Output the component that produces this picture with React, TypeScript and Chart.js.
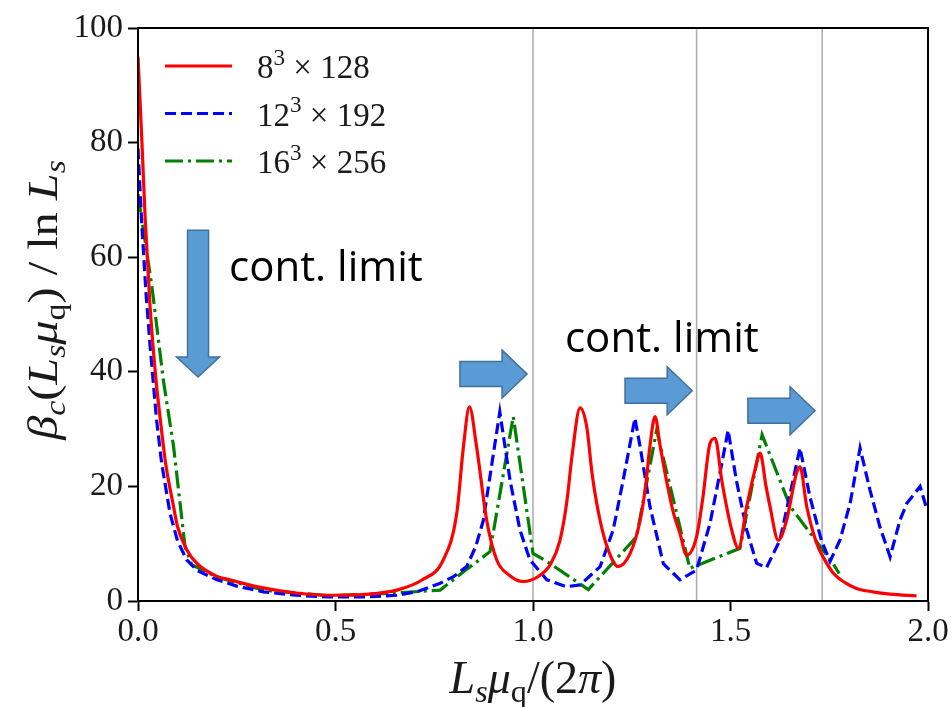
import React, { useEffect, useRef } from "react";
import { Chart, registerables } from "chart.js";
Chart.register(...registerables);

// ---- data ----
const redX = [0, 0.01, 0.018, 0.03, 0.045, 0.056, 0.07, 0.09, 0.1, 0.123, 0.15, 0.2, 0.233, 0.3, 0.4, 0.5, 0.6, 0.655, 0.72, 0.773, 0.807, 0.824, 0.839, 0.857, 0.883, 0.908, 0.94, 0.975, 1.018, 1.045, 1.068, 1.085, 1.1, 1.119, 1.136, 1.15, 1.17, 1.19, 1.215, 1.246, 1.271, 1.285, 1.296, 1.309, 1.322, 1.338, 1.355, 1.372, 1.389, 1.414, 1.43, 1.448, 1.461, 1.478, 1.503, 1.52, 1.541, 1.562, 1.575, 1.59, 1.6, 1.621, 1.642, 1.667, 1.676, 1.693, 1.718, 1.74, 1.76, 1.79, 1.819, 1.86, 1.904, 1.971];
const redY = [95, 80, 67, 52, 39, 32, 24, 16.5, 13, 9, 6.5, 4.3, 3.7, 2.5, 1.4, 1.0, 1.3, 1.9, 3.7, 7.2, 15.3, 27, 33.9, 27, 14, 7.2, 4.5, 3.4, 4.5, 6.5, 10.5, 17, 26, 33.7, 30.4, 22, 14, 9, 6, 8.3, 14, 20, 27, 32.2, 27, 21, 15.5, 11.8, 8, 11.2, 18, 27.5, 28.4, 21, 12.4, 9.2, 16.5, 22.9, 25.8, 20, 16.5, 10.6, 14.1, 22.3, 23.4, 16.5, 10.1, 7, 4.9, 3.2, 2.2, 1.6, 1.2, 0.9];

const blueX = [0, 0.009, 0.02, 0.03, 0.047, 0.06, 0.081, 0.1, 0.123, 0.15, 0.2, 0.25, 0.317, 0.4, 0.486, 0.57, 0.655, 0.71, 0.765, 0.8, 0.832, 0.855, 0.874, 0.9, 0.916, 0.942, 0.967, 0.992, 1.035, 1.084, 1.119, 1.17, 1.203, 1.228, 1.258, 1.271, 1.296, 1.33, 1.372, 1.414, 1.448, 1.478, 1.494, 1.515, 1.541, 1.566, 1.591, 1.625, 1.655, 1.676, 1.701, 1.73, 1.752, 1.777, 1.803, 1.828, 1.853, 1.878, 1.904, 1.929, 1.946, 1.98, 1.995];
const blueY = [79, 66.5, 54, 45, 31.6, 24, 15.3, 10.5, 7.2, 5.3, 3.7, 2.6, 1.6, 1.0, 0.7, 0.7, 1.0, 1.7, 3.1, 4.3, 6, 9.5, 14, 25.8, 33, 21, 12.4, 7.2, 3.7, 2.5, 2.8, 6, 12.4, 21, 31.9, 27, 16.5, 6.5, 3.7, 5.4, 13.5, 24, 29.8, 21, 12.4, 6.6, 5.8, 10.6, 20, 26.7, 18.2, 10.6, 6.9, 10.6, 17.1, 26.7, 19.4, 13, 7.7, 14.1, 17, 20, 16.5];

const greenX = [0, 0.035, 0.064, 0.09, 0.119, 0.136, 0.2, 0.317, 0.486, 0.655, 0.765, 0.824, 0.891, 0.95, 1.0, 1.035, 1.14, 1.2, 1.262, 1.313, 1.355, 1.397, 1.524, 1.58, 1.651, 1.76, 1.775];
const greenY = [71, 55, 38.6, 27, 9.5, 6.3, 4.2, 1.9, 0.9, 1.4, 1.9, 5.1, 8.6, 32.2, 8.3, 6.9, 2.0, 6.5, 11.2, 29.8, 17.8, 5.7, 9.2, 29, 16.5, 6.5, 4.8];

const xTicks = [0, 0.5, 1.0, 1.5, 2.0];
const yTicks = [0, 20, 40, 60, 80, 100];
const vLines = [1, Math.SQRT2, Math.sqrt(3)];

// annotations (data coordinates)
const rightArrows = [
  [0.815, 0.985, 39.6],
  [1.233, 1.403, 36.7],
  [1.544, 1.714, 33.2],
];
const downArrow = [0.152, 64.7, 39.1];
const notes = [
  { text: "cont. limit", x: 0.2304, y: 55.8 },
  { text: "cont. limit", x: 1.081, y: 43.5 },
];

const FONT = '"Liberation Serif", "DejaVu Serif", serif';
const SANS = '"Open Sans", "Noto Sans", sans-serif';

type Seg = { t: string; it?: boolean; sub?: boolean; sup?: boolean };

function segFont(s: Seg, size: number) {
  const sz = s.sub || s.sup ? size * 0.7 : size;
  return `${s.it ? "italic " : ""}${sz}px ${FONT}`;
}
function measureRich(ctx: CanvasRenderingContext2D, segs: Seg[], size: number) {
  let w = 0;
  for (const s of segs) {
    ctx.font = segFont(s, size);
    w += ctx.measureText(s.t).width;
  }
  return w;
}
function drawRich(ctx: CanvasRenderingContext2D, segs: Seg[], x: number, y: number, size: number) {
  let cx = x;
  ctx.textBaseline = "alphabetic";
  ctx.textAlign = "left";
  for (const s of segs) {
    ctx.font = segFont(s, size);
    const dy = s.sub ? size * 0.2 : s.sup ? -size * 0.4 : 0;
    ctx.fillText(s.t, cx, y + dy);
    cx += ctx.measureText(s.t).width;
  }
}

const xLabel: Seg[] = [
  { t: "L", it: true },
  { t: "s", it: true, sub: true },
  { t: "μ", it: true },
  { t: "q", sub: true },
  { t: "/(2" },
  { t: "π", it: true },
  { t: ")" },
];
const yLabel: Seg[] = [
  { t: "β", it: true },
  { t: "c", it: true, sub: true },
  { t: "(" },
  { t: "L", it: true },
  { t: "s", it: true, sub: true },
  { t: "μ", it: true },
  { t: "q", sub: true },
  { t: ")" },
  { t: " / ln " },
  { t: "L", it: true },
  { t: "s", it: true, sub: true },
];
const legendItems = [
  { segs: [{ t: "8" }, { t: "3", sup: true }, { t: " × 128" }] as Seg[], color: "#ff0000", dash: [] as number[] },
  { segs: [{ t: "12" }, { t: "3", sup: true }, { t: " × 192" }] as Seg[], color: "#0000ff", dash: [11, 5] },
  { segs: [{ t: "16" }, { t: "3", sup: true }, { t: " × 256" }] as Seg[], color: "#008000", dash: [18, 5, 3, 5] },
];

function rightArrowPath(ctx: CanvasRenderingContext2D, x0: number, x1: number, yc: number) {
  const sh = 12.5, hh = 24, hl = 25;
  ctx.beginPath();
  ctx.moveTo(x0, yc - sh);
  ctx.lineTo(x1 - hl, yc - sh);
  ctx.lineTo(x1 - hl, yc - hh);
  ctx.lineTo(x1, yc);
  ctx.lineTo(x1 - hl, yc + hh);
  ctx.lineTo(x1 - hl, yc + sh);
  ctx.lineTo(x0, yc + sh);
  ctx.closePath();
}
function downArrowPath(ctx: CanvasRenderingContext2D, xc: number, y0: number, y1: number) {
  const sw = 10.5, hw = 21.5, hl = 20;
  ctx.beginPath();
  ctx.moveTo(xc - sw, y0);
  ctx.lineTo(xc + sw, y0);
  ctx.lineTo(xc + sw, y1 - hl);
  ctx.lineTo(xc + hw, y1 - hl);
  ctx.lineTo(xc, y1);
  ctx.lineTo(xc - hw, y1 - hl);
  ctx.lineTo(xc - sw, y1 - hl);
  ctx.closePath();
}

const decor = {
  id: "decor",
  beforeDatasetsDraw(chart: any) {
    const { ctx, chartArea: a, scales } = chart;
    ctx.save();
    ctx.strokeStyle = "#b0b0b0";
    ctx.lineWidth = 1.6;
    for (const v of vLines) {
      const px = scales.x.getPixelForValue(v);
      ctx.beginPath();
      ctx.moveTo(px, a.top);
      ctx.lineTo(px, a.bottom);
      ctx.stroke();
    }
    ctx.restore();
  },
  afterDraw(chart: any) {
    const { ctx, chartArea: a, scales } = chart;
    const xs = scales.x, ys = scales.y;
    ctx.save();
    // frame
    ctx.strokeStyle = "#000";
    ctx.lineWidth = 2;
    ctx.strokeRect(a.left, a.top, a.right - a.left, a.bottom - a.top);

    // arrows
    ctx.fillStyle = "#5b9bd5";
    ctx.strokeStyle = "#41719c";
    ctx.lineWidth = 1.5;
    for (const [x0, x1, y] of rightArrows) {
      rightArrowPath(ctx, xs.getPixelForValue(x0), xs.getPixelForValue(x1), ys.getPixelForValue(y));
      ctx.fill();
      ctx.stroke();
    }
    downArrowPath(ctx, xs.getPixelForValue(downArrow[0]), ys.getPixelForValue(downArrow[1]), ys.getPixelForValue(downArrow[2]));
    ctx.fill();
    ctx.stroke();

    // notes
    ctx.fillStyle = "#000";
    ctx.font = `42px ${SANS}`;
    ctx.textAlign = "left";
    ctx.textBaseline = "alphabetic";
    for (const n of notes) {
      ctx.fillText(n.text, xs.getPixelForValue(n.x), ys.getPixelForValue(n.y));
    }

    // legend
    const lsize = 33;
    legendItems.forEach((it, i) => {
      const ly = a.top + 38 + i * 47.5;
      ctx.strokeStyle = it.color;
      ctx.lineWidth = 3.2;
      ctx.setLineDash(it.dash);
      ctx.beginPath();
      ctx.moveTo(a.left + 27, ly);
      ctx.lineTo(a.left + 94, ly);
      ctx.stroke();
      ctx.setLineDash([]);
      ctx.fillStyle = "#1a1a1a";
      drawRich(ctx, it.segs, a.left + 119, ly + 12, lsize);
    });

    // x axis title
    ctx.fillStyle = "#1a1a1a";
    const xsz = 46;
    const xw = measureRich(ctx, xLabel, xsz);
    drawRich(ctx, xLabel, (a.left + a.right) / 2 - xw / 2, 693, xsz);

    // y axis title
    const ysz = 42;
    const target = 315;
    const yw = measureRich(ctx, yLabel, ysz);
    const k = Math.min(1.15, Math.max(1, target / yw));
    ctx.save();
    ctx.translate(57, 300);
    ctx.rotate(-Math.PI / 2);
    ctx.scale(k, 1);
    drawRich(ctx, yLabel, -yw / 2, 0, ysz);
    ctx.restore();

    ctx.restore();
  },
};

export default function App() {
  const ref = useRef<HTMLCanvasElement>(null);
  useEffect(() => {
    const mk = (xsArr: number[], ysArr: number[]) => xsArr.map((x, i) => ({ x, y: ysArr[i] }));
    const tickGrid = {
      display: true,
      drawOnChartArea: false,
      drawTicks: true,
      tickLength: 10,
      tickWidth: 2,
      tickColor: "#000",
      color: "#000",
    };
    const chart = new Chart(ref.current!, {
      type: "line",
      data: {
        datasets: [
          {
            label: "8^3 x 128",
            data: mk(redX, redY),
            borderColor: "#ff0000",
            borderWidth: 3.2,
            pointRadius: 0,
            cubicInterpolationMode: "monotone",
            fill: false,
          },
          {
            label: "12^3 x 192",
            data: mk(blueX, blueY),
            borderColor: "#0000ff",
            borderWidth: 3.2,
            borderDash: [11, 5],
            pointRadius: 0,
            tension: 0,
            fill: false,
          },
          {
            label: "16^3 x 256",
            data: mk(greenX, greenY),
            borderColor: "#008000",
            borderWidth: 3.2,
            borderDash: [18, 5, 3, 5],
            pointRadius: 0,
            tension: 0,
            fill: false,
          },
        ],
      },
      options: {
        animation: false,
        responsive: false,
        devicePixelRatio: 1,
        layout: { padding: { top: 28, right: 24, left: 0, bottom: 0 } },
        plugins: { legend: { display: false }, tooltip: { enabled: false } },
        scales: {
          x: {
            type: "linear",
            min: 0,
            max: 2,
            afterBuildTicks: (s: any) => {
              s.ticks = xTicks.map((v) => ({ value: v }));
            },
            afterFit: (s: any) => {
              s.height = 106;
              s.paddingLeft = 0;
              s.paddingRight = 0;
            },
            ticks: {
              callback: (v: any) => Number(v).toFixed(1),
              font: { family: FONT, size: 33 },
              color: "#1a1a1a",
              padding: 2,
              maxRotation: 0,
            },
            grid: tickGrid,
            border: { display: true, color: "#000", width: 2 },
          },
          y: {
            type: "linear",
            min: 0,
            max: 100,
            afterBuildTicks: (s: any) => {
              s.ticks = yTicks.map((v) => ({ value: v }));
            },
            afterFit: (s: any) => {
              s.width = 138;
              s.paddingTop = 0;
              s.paddingBottom = 0;
            },
            ticks: {
              font: { family: FONT, size: 33 },
              color: "#1a1a1a",
              padding: 5,
            },
            grid: tickGrid,
            border: { display: true, color: "#000", width: 2 },
          },
        },
      },
      plugins: [decor],
    } as any);
    return () => chart.destroy();
  }, []);
  return (
    <div style={{ position: "fixed", left: 0, top: 0, width: 952, height: 707, background: "#fff" }}>
      <canvas ref={ref} width={952} height={707} />
    </div>
  );
}
